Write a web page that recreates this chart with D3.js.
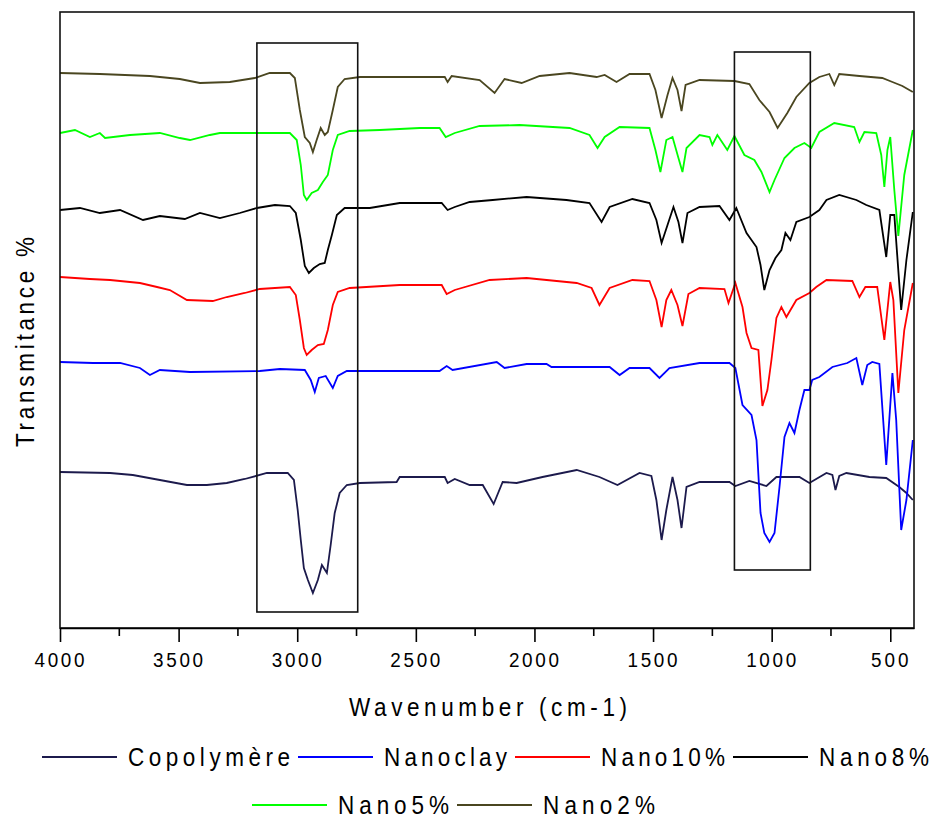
<!DOCTYPE html>
<html>
<head>
<meta charset="utf-8">
<script src="https://cdn.jsdelivr.net/npm/d3@7"></script>
<style>
  body { margin: 0; background: #fff; }
  text { font-family: "Liberation Sans", Arial, sans-serif; fill: #000; }
</style>
</head>
<body>
<div id="chart"></div>
<script>
// wavenumber (cm-1), transmittance (arbitrary units, curves are offset)
const copolymere = [[4000,156],[3789,155],[3693,153],[3579,148],[3465,143],[3381,143],[3297,145],[3221,149],[3128,155],[3040,155],[3014,148],[2998,118],[2985,88],[2972,60],[2955,48],[2934,35],[2913,48],[2896,63],[2875,55],[2859,83],[2842,115],[2821,135],[2791,143],[2736,145],[2581,146],[2568,151],[2378,151],[2366,145],[2336,149],[2273,143],[2218,143],[2172,124],[2134,146],[2075,145],[1966,151],[1822,158],[1726,151],[1650,143],[1557,155],[1507,152],[1486,128],[1464,88],[1444,118],[1418,151],[1397,128],[1380,100],[1359,141],[1304,146],[1178,146],[1153,142],[1094,147],[1022,142],[980,151],[883,151],[841,145],[769,155],[744,153],[731,138],[715,152],[685,155],[588,151],[517,150],[462,141],[432,135],[405,128]];
const nanoclay = [[4000,266],[3861,265],[3747,265],[3663,260],[3621,253],[3579,258],[3452,256],[3158,257],[3073,259],[2968,258],[2943,248],[2926,236],[2909,250],[2880,252],[2850,240],[2829,252],[2791,257],[2400,257],[2370,262],[2345,258],[2159,266],[2126,260],[2033,264],[1949,264],[1928,261],[1683,261],[1641,253],[1599,260],[1515,260],[1473,250],[1431,260],[1304,265],[1178,265],[1153,260],[1123,223],[1085,213],[1064,188],[1047,115],[1031,95],[1009,86],[988,95],[967,141],[946,191],[925,205],[904,195],[883,218],[862,238],[841,238],[829,248],[799,251],[744,261],[681,265],[643,270],[618,243],[597,263],[576,266],[546,264],[517,163],[491,255],[475,208],[454,98],[432,128],[405,188]];
const nano10 = [[4000,351],[3874,349],[3789,348],[3663,345],[3591,341],[3537,338],[3465,328],[3356,327],[3297,331],[3221,335],[3158,339],[3031,341],[3006,333],[2989,308],[2972,280],[2960,273],[2939,278],[2913,283],[2888,284],[2871,298],[2850,323],[2829,336],[2779,340],[2568,343],[2391,343],[2370,334],[2336,338],[2189,348],[2033,350],[1822,345],[1759,340],[1726,323],[1683,340],[1587,348],[1515,347],[1486,328],[1464,301],[1444,328],[1423,338],[1397,323],[1376,302],[1351,334],[1304,340],[1199,339],[1182,325],[1153,345],[1123,321],[1106,295],[1085,280],[1056,278],[1039,222],[1018,238],[1001,268],[980,310],[959,321],[938,311],[896,328],[841,335],[812,341],[769,348],[660,347],[630,331],[605,341],[555,341],[525,288],[500,346],[487,328],[466,235],[441,298],[405,345]];
const nano8 = [[4000,418],[3916,420],[3832,415],[3747,418],[3650,408],[3579,412],[3474,409],[3410,415],[3326,410],[3242,415],[3170,420],[3094,423],[3031,422],[3006,415],[2985,388],[2968,362],[2951,355],[2930,360],[2905,364],[2884,365],[2871,378],[2854,393],[2833,413],[2800,420],[2694,420],[2568,425],[2391,425],[2366,418],[2336,421],[2273,426],[2176,428],[2033,431],[1865,428],[1768,425],[1717,406],[1683,421],[1587,429],[1515,425],[1486,408],[1464,385],[1439,403],[1414,421],[1393,406],[1376,385],[1355,415],[1304,421],[1220,422],[1178,408],[1149,420],[1106,395],[1064,381],[1047,363],[1031,338],[1009,358],[984,370],[959,378],[942,395],[921,388],[896,406],[841,411],[799,418],[769,428],[715,433],[643,428],[601,423],[546,418],[517,371],[500,413],[483,413],[454,318],[432,368],[405,416]];
const nano5 = [[4000,495],[3937,498],[3874,491],[3832,495],[3810,490],[3705,493],[3579,495],[3495,490],[3452,488],[3368,493],[3326,495],[3031,495],[3002,488],[2985,463],[2972,433],[2960,428],[2939,435],[2913,438],[2892,446],[2871,453],[2850,478],[2829,493],[2779,497],[2652,498],[2484,500],[2400,500],[2374,491],[2336,495],[2231,502],[2063,503],[1852,500],[1768,493],[1734,480],[1704,491],[1641,501],[1515,500],[1490,478],[1469,456],[1444,488],[1418,491],[1393,470],[1376,456],[1359,480],[1304,493],[1262,491],[1250,483],[1229,493],[1187,478],[1157,492],[1115,473],[1073,468],[1043,456],[1009,436],[988,448],[946,470],[904,480],[862,485],[833,480],[799,496],[736,505],[652,501],[630,486],[609,496],[559,495],[538,473],[525,441],[512,478],[500,491],[483,438],[466,392],[441,453],[405,498]];
const nano2 = [[4000,555],[3832,554],[3621,552],[3495,549],[3410,545],[3284,546],[3179,550],[3116,555],[3031,555],[3010,550],[2989,518],[2968,491],[2947,485],[2934,476],[2918,488],[2901,500],[2884,493],[2871,496],[2850,518],[2829,541],[2800,549],[2736,551],[2568,551],[2378,551],[2366,546],[2349,552],[2231,548],[2168,535],[2126,549],[2054,545],[1978,552],[1852,555],[1738,551],[1704,553],[1654,546],[1599,554],[1515,554],[1490,538],[1464,510],[1439,533],[1418,550],[1397,538],[1380,517],[1363,543],[1304,548],[1157,547],[1094,544],[1052,528],[1009,516],[975,500],[934,515],[896,531],[841,545],[799,551],[757,554],[736,543],[715,554],[630,552],[534,550],[491,546],[449,542],[405,536]];

const seriesNames = ["Copolymère", "Nanoclay", "Nano10%", "Nano8%", "Nano5%", "Nano2%"];
const seriesColors = ["#1c1a4c", "#0000ff", "#ff0000", "#000000", "#00ff00", "#4a4620"];
const seriesData = [copolymere, nanoclay, nano10, nano8, nano5, nano2];

const xTicks = [4000, 3500, 3000, 2500, 2000, 1500, 1000, 500];
const xMinorTicks = [3750, 3250, 2750, 2250, 1750, 1250, 750];
// highlighted bands (cm-1), top and bottom in transmittance units
const bands = [{from: 3170, to: 2745, top: 585, bottom: 16}, {from: 1157, to: 837, top: 576, bottom: 58}];

var width = 935, height = 823;
var margin = {top: 12, right: 21, bottom: 195, left: 60};
var plotW = width - margin.left - margin.right,
    plotH = height - margin.top - margin.bottom;
var squeeze = 0.9; // the original font is a narrow one

var svg = d3.select("#chart").append("svg")
    .attr("width", width)
    .attr("height", height);

var g = svg.append("g").attr("transform", `translate(${margin.left},${margin.top})`);

var x = d3.scaleLinear().domain([4000, 400]).range([0, plotW]);
var y = d3.scaleLinear().domain([0, 616]).range([plotH, 0]);

g.append("clipPath").attr("id", "clip")
  .append("rect").attr("width", plotW).attr("height", plotH);

var line = d3.line().x(d => x(d[0])).y(d => y(d[1]));

g.append("g").attr("clip-path", "url(#clip)")
  .selectAll("path.spec")
  .data(seriesData)
  .enter().append("path")
  .attr("class", "spec")
  .attr("fill", "none")
  .attr("stroke", (d, i) => seriesColors[i])
  .attr("stroke-width", 1.8)
  .attr("d", line);

// boxes
g.selectAll("rect.band")
  .data(bands)
  .enter().append("rect")
  .attr("class", "band")
  .attr("x", d => x(d.from))
  .attr("width", d => x(d.to) - x(d.from))
  .attr("y", d => y(d.top))
  .attr("height", d => y(d.bottom) - y(d.top))
  .attr("fill", "none")
  .attr("stroke", "#111")
  .attr("stroke-width", 1.6);

// frame
g.append("rect")
  .attr("width", plotW).attr("height", plotH)
  .attr("fill", "none").attr("stroke", "#111").attr("stroke-width", 1.6);

// x axis
var xAxis = d3.axisBottom(x).tickValues(xTicks).tickSize(14).tickSizeOuter(0).tickFormat(d3.format("d"));
var ax = g.append("g").attr("transform", `translate(0,${plotH})`).call(xAxis);
ax.select(".domain").attr("stroke-width", 1.6);
ax.selectAll(".tick line").attr("stroke-width", 1.6);
ax.selectAll(".tick text")
  .attr("dy", 0).attr("y", 0)
  .attr("transform", `translate(-1,39) scale(${squeeze},1)`)
  .attr("textLength", d => String(d).length * 12.5 / squeeze).attr("lengthAdjust", "spacing")
  .style("font-size", "21px")
  .style("font-family", "'Liberation Sans', Arial, sans-serif");

ax.selectAll(".minor")
  .data(xMinorTicks)
  .enter().append("line")
  .attr("class", "minor")
  .attr("x1", d => x(d)).attr("x2", d => x(d))
  .attr("y1", 0).attr("y2", 8)
  .attr("stroke", "#000").attr("stroke-width", 1.6);

// narrow, spaced-out text fitted to a width
function label(parent, px, py, w, size, str, rot) {
  return parent.append("text")
    .attr("transform", `translate(${px},${py}) rotate(${rot || 0}) scale(${squeeze},1)`)
    .attr("textLength", w / squeeze).attr("lengthAdjust", "spacing")
    .style("font-size", size + "px")
    .text(str);
}

// axis titles
label(svg, 349, 716, 278, 25, "Wavenumber (cm-1)");
label(svg, 34, 447, 210, 25, "Transmitance %", -90);

// legend
const legendWidths = [162, 123, 124, 110, 111, 112];
var legendRows = [{start: 42, y: 757, items: [0, 1, 2, 3]}, {start: 252, y: 805, items: [4, 5]}];
legendRows.forEach(row => {
  var cx = row.start;
  row.items.forEach(i => {
    svg.append("line")
      .attr("x1", cx).attr("x2", cx + 75)
      .attr("y1", row.y).attr("y2", row.y)
      .attr("stroke", seriesColors[i]).attr("stroke-width", 2.2);
    label(svg, cx + 86, row.y + 9, legendWidths[i], 25, seriesNames[i]);
    cx = cx + 86 + legendWidths[i] + 8;
  });
});
</script>
</body>
</html>
